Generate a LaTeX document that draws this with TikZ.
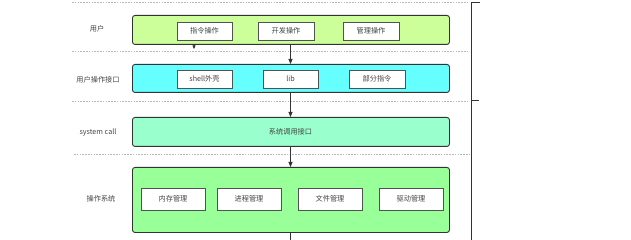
\documentclass[tikz,border=0pt]{standalone}
\usepackage{fontspec}
\setmainfont{Noto Sans CJK SC}
\usetikzlibrary{arrows.meta}
\definecolor{txt}{HTML}{444444}
\definecolor{edge}{HTML}{333333}
\definecolor{cUser}{HTML}{CCFF99}
\definecolor{cIf}{HTML}{66FFFF}
\definecolor{cSys}{HTML}{99FFCC}
\definecolor{cOs}{HTML}{99FF99}
\begin{document}
\begin{tikzpicture}[x=1pt,y=-1pt,
  font=\fontsize{7.2}{8.6}\selectfont,
  layer/.style={draw=edge,line width=0.9pt,rounded corners=2.5pt,text=txt},
  item/.style={draw=edge!85,line width=0.9pt,fill=white,text=txt,inner sep=0pt},
  lbl/.style={text=txt,inner sep=0pt},
  sep/.style={draw=black!28,dash pattern=on 1.6pt off 1.2pt,line width=0.45pt},
  flow/.style={draw=edge,line width=0.8pt,-{Triangle[length=5pt,width=4pt]}}]
\useasboundingbox (0,0) rectangle (631,240);
% separators
\coordinate (s1a) at (72,2);   \coordinate (s1b) at (468,2);
\coordinate (s2a) at (72,51.5);  \coordinate (s2b) at (468,51.5);
\coordinate (s3a) at (72,101.5); \coordinate (s3b) at (468,101.5);
\coordinate (s4a) at (74,154); \coordinate (s4b) at (471,154);
\draw[sep] (s1a) -- (s1b);
\draw[sep] (s2a) -- (s2b);
\draw[sep] (s3a) -- (s3b);
\draw[sep] (s4a) -- (s4b);
% bracket
\coordinate (bt) at (471,2); \coordinate (bb) at (471,240);
\coordinate (bt2) at (480,2); \coordinate (bm) at (471,100); \coordinate (bm2) at (479,100);
\draw[edge,line width=0.8pt] (bt2) -- (bt) -- (bb);
\draw[edge,line width=0.8pt] (bm) -- (bm2);
% hidden arrow stub
\coordinate (h1) at (194,44); \coordinate (h2) at (194,49);
\draw[draw=edge,line width=0.5pt,-{Triangle[length=3.5pt,width=3pt]}] (h1) -- (h2);
% layers
\node[layer,fill=cUser,minimum width=317pt,minimum height=29pt,anchor=north west] (user) at (132,15) {};
\node[layer,fill=cIf,minimum width=317pt,minimum height=28pt,anchor=north west] (uif) at (132,64) {};
\node[layer,fill=cSys,minimum width=317pt,minimum height=29pt,anchor=north west] (sys) at (132,117) {};
\node[layer,fill=cOs,minimum width=317pt,minimum height=65pt,anchor=north west] (os) at (132,167) {};
\node[lbl] at (290.5,132) {系统调用接口};
% inner items
\node[item,minimum width=55pt,minimum height=18pt] (u1) at (204.5,31) {指令操作};
\node[item,minimum width=56pt,minimum height=18pt] (u2) at (286,31) {开发操作};
\node[item,minimum width=56pt,minimum height=18pt] (u3) at (371,31) {管理操作};
\node[item,minimum width=55pt,minimum height=18pt] (i1) at (204.5,79) {shell外壳};
\node[item,minimum width=55pt,minimum height=18pt] (i2) at (290.5,79) {lib};
\node[item,minimum width=56pt,minimum height=18pt] (i3) at (377,79) {部分指令};
\node[item,minimum width=64pt,minimum height=22pt] (o1) at (173,199) {内存管理};
\node[item,minimum width=64pt,minimum height=22pt] (o2) at (249,199) {进程管理};
\node[item,minimum width=64pt,minimum height=22pt] (o3) at (330,199) {文件管理};
\node[item,minimum width=64pt,minimum height=22pt] (o4) at (411,199) {驱动管理};
% left labels
\node[lbl] (l1) at (97,29) {用户};
\node[lbl] (l2) at (98,80) {用户操作接口};
\node[lbl] (l3) at (98,132) {system call};
\node[lbl] (l4) at (101,199) {操作系统};
% arrows
\draw[flow] (user.south -| i2) -- (uif.north -| i2);
\draw[flow] (uif.south -| i2) -- (sys.north -| i2);
\draw[flow] (sys.south -| i2) -- (os.north -| i2);
\coordinate (bot) at (290.5,240);
\draw[edge,line width=0.8pt] (os.south -| i2) -- (bot);
\end{tikzpicture}
\end{document}
